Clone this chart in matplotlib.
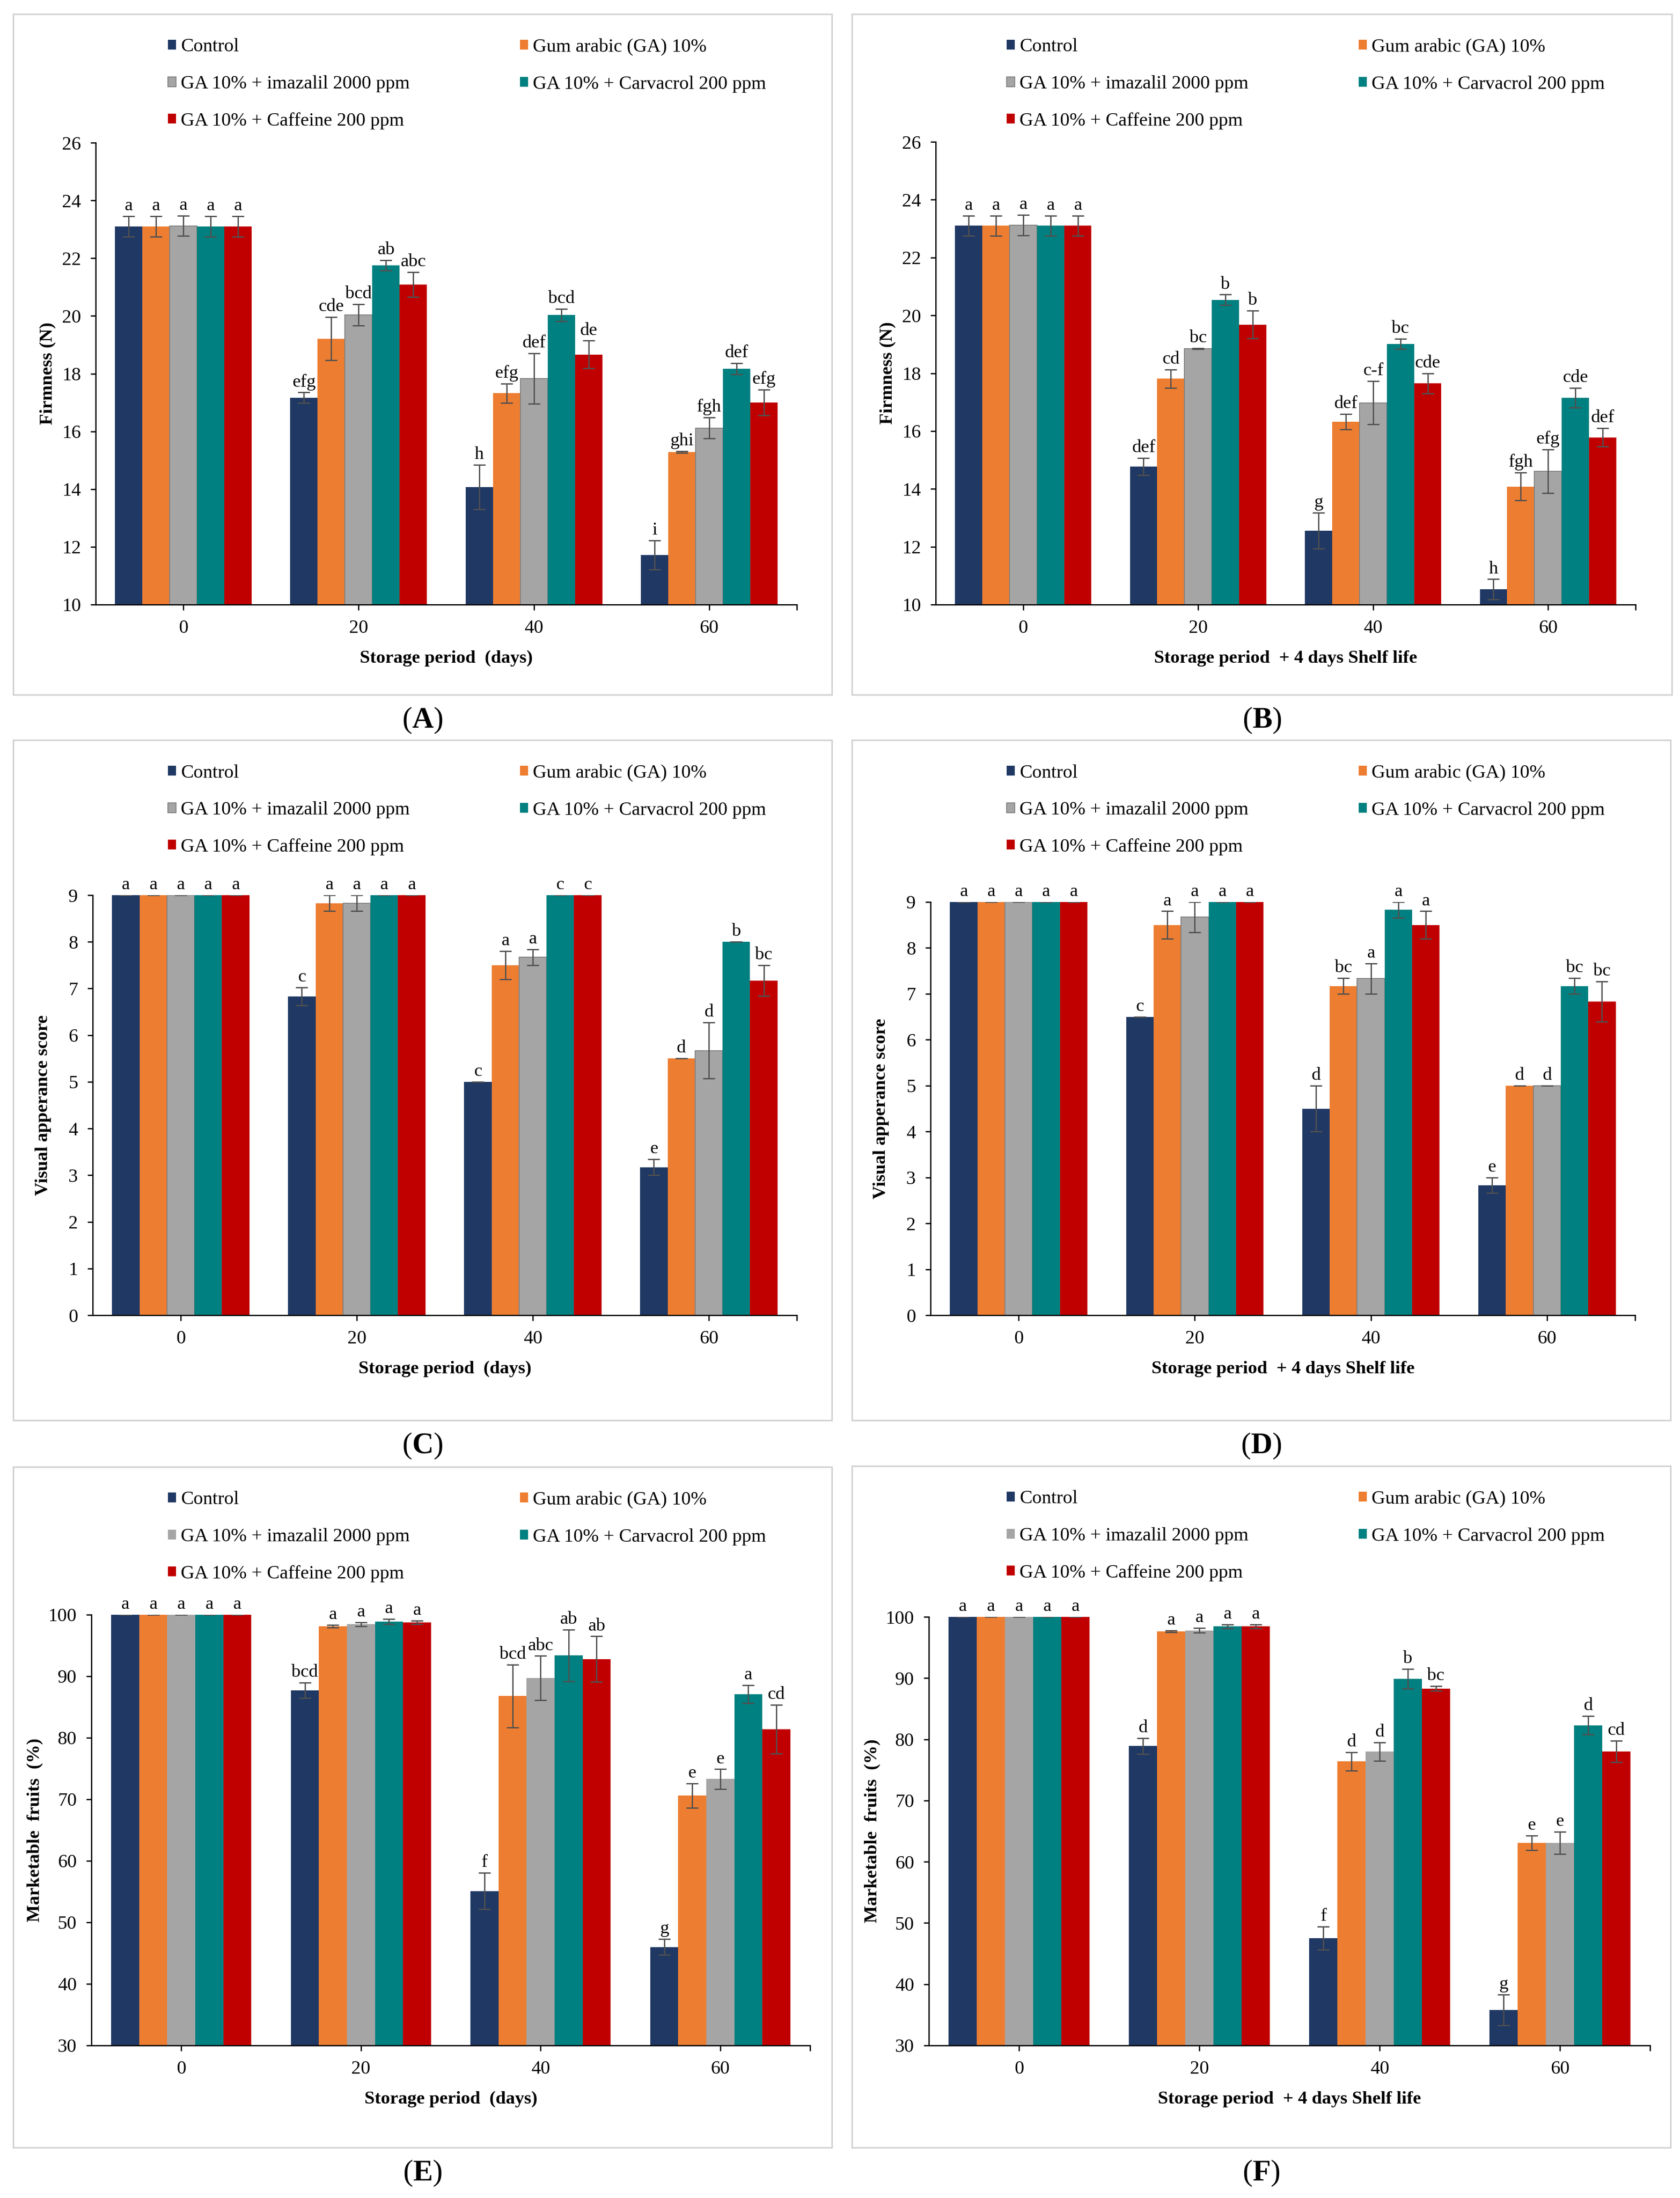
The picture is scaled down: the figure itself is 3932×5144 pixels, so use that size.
import numpy as np
import matplotlib
matplotlib.use("Agg")
import matplotlib.pyplot as plt
from matplotlib.patches import Rectangle

plt.rcParams['font.family'] = ['Liberation Serif', 'DejaVu Serif']
plt.rcParams['mathtext.fontset'] = 'custom'
plt.rcParams['mathtext.rm'] = 'Liberation Serif'
plt.rcParams['mathtext.bf'] = 'Liberation Serif:bold'

days = ['0', '20', '40', '60']
treatments = ['Control', 'Gum arabic (GA) 10%', 'GA 10% + imazalil 2000 ppm',
              'GA 10% + Carvacrol 200 ppm', 'GA 10% + Caffeine 200 ppm']
colors = ['#203864', '#ED7D31', '#A5A5A5', '#008080', '#C00000']

# (A) firmness, storage
firm_a = [[23.1, 17.17, 14.07, 11.72],
          [23.1, 19.21, 17.32, 15.29],
          [23.12, 20.03, 17.83, 16.12],
          [23.1, 21.75, 20.03, 18.17],
          [23.1, 21.09, 18.66, 17.0]]
err_a = [[0.35, 0.18, 0.77, 0.5],
         [0.35, 0.75, 0.33, 0.03],
         [0.35, 0.37, 0.88, 0.36],
         [0.35, 0.18, 0.21, 0.19],
         [0.35, 0.43, 0.48, 0.45]]
let_a = [['a', 'efg', 'h', 'i'], ['a', 'cde', 'efg', 'ghi'], ['a', 'bcd', 'def', 'fgh'],
         ['a', 'ab', 'bcd', 'def'], ['a', 'abc', 'de', 'efg']]

# (B) firmness, storage + shelf life
firm_b = [[23.1, 14.77, 12.56, 10.53],
          [23.1, 17.81, 16.32, 14.08],
          [23.12, 18.85, 16.98, 14.61],
          [23.1, 20.54, 19.01, 17.15],
          [23.1, 19.68, 17.65, 15.78]]
err_b = [[0.35, 0.3, 0.62, 0.35],
         [0.35, 0.32, 0.27, 0.48],
         [0.35, 0.02, 0.75, 0.75],
         [0.35, 0.18, 0.18, 0.34],
         [0.35, 0.48, 0.35, 0.32]]
let_b = [['a', 'def', 'g', 'h'], ['a', 'cd', 'def', 'fgh'], ['a', 'bc', 'c-f', 'efg'],
         ['a', 'b', 'bc', 'cde'], ['a', 'b', 'cde', 'def']]

# (C) visual appearance, storage
vis_c = [[9, 6.83, 5.0, 3.17],
         [9, 8.83, 7.5, 5.5],
         [9, 8.83, 7.67, 5.67],
         [9, 9, 9, 8.0],
         [9, 9, 9, 7.17]]
err_c = [[0, 0.19, 0, 0.17],
         [0, 0.17, 0.3, 0],
         [0, 0.17, 0.17, 0.6],
         [0, 0, 0, 0],
         [0, 0, 0, 0.33]]
let_c = [['a', 'c', 'c', 'e'], ['a', 'a', 'a', 'd'], ['a', 'a', 'a', 'd'],
         ['a', 'a', 'c', 'b'], ['a', 'a', 'c', 'bc']]

# (D) visual appearance, storage + shelf life
vis_d = [[9, 6.5, 4.5, 2.83],
         [9, 8.5, 7.17, 5.0],
         [9, 8.67, 7.33, 5.0],
         [9, 9, 8.83, 7.17],
         [9, 9, 8.5, 6.83]]
err_d = [[0, 0, 0.5, 0.17],
         [0, 0.3, 0.17, 0],
         [0, 0.33, 0.33, 0],
         [0, 0, 0.17, 0.17],
         [0, 0, 0.3, 0.44]]
let_d = [['a', 'c', 'd', 'e'], ['a', 'a', 'bc', 'd'], ['a', 'a', 'a', 'd'],
         ['a', 'a', 'a', 'bc'], ['a', 'a', 'a', 'bc']]

# (E) marketable fruits, storage
mkt_e = [[100, 87.7, 55.1, 46.0],
         [100, 98.15, 86.8, 70.6],
         [100, 98.45, 89.7, 73.3],
         [100, 98.9, 93.4, 87.1],
         [100, 98.75, 92.8, 81.4]]
err_e = [[0, 1.25, 2.95, 1.3],
         [0, 0.2, 5.1, 2.0],
         [0, 0.3, 3.6, 1.6],
         [0, 0.4, 4.2, 1.45],
         [0, 0.3, 3.7, 3.95]]
let_e = [['a', 'bcd', 'f', 'g'], ['a', 'a', 'bcd', 'e'], ['a', 'a', 'abc', 'e'],
         ['a', 'a', 'ab', 'a'], ['a', 'a', 'ab', 'cd']]

# (F) marketable fruits, storage + shelf life
mkt_f = [[100, 78.9, 47.5, 35.8],
         [100, 97.65, 76.4, 63.1],
         [100, 97.8, 78.0, 63.1],
         [100, 98.45, 89.9, 82.3],
         [100, 98.45, 88.3, 78.0]]
err_f = [[0, 1.3, 1.9, 2.5],
         [0, 0.15, 1.5, 1.2],
         [0, 0.4, 1.5, 1.8],
         [0, 0.3, 1.6, 1.5],
         [0, 0.3, 0.4, 1.75]]
let_f = [['a', 'd', 'f', 'g'], ['a', 'a', 'd', 'e'], ['a', 'a', 'd', 'e'],
         ['a', 'a', 'b', 'd'], ['a', 'a', 'bc', 'cd']]

xlab_store = 'Storage period  (days)'
xlab_shelf = 'Storage period  + 4 days Shelf life'

W, H = 3932, 5144
fig = plt.figure(figsize=(W / 100, H / 100), dpi=100)

# tag, data, err, letters, ylabel, xlabel, ylim, yticks, box px (l, t, r, b), axes px (l, t, r, b)
panels = [
    ('A', firm_a, err_a, let_a, 'Firmness (N)', xlab_store, (10, 26), range(10, 27, 2),
     (31, 33, 1947, 1626), (224, 334, 1865, 1415), 112),
    ('B', firm_b, err_b, let_b, 'Firmness (N)', xlab_shelf, (10, 26), range(10, 27, 2),
     (1994, 33, 3913, 1626), (2190, 332, 3828, 1415), 112),
    ('C', vis_c, err_c, let_c, 'Visual apperance score', xlab_store, (0, 9), range(0, 10),
     (31, 1732, 1947, 3324), (217, 2095, 1865, 3078), 116),
    ('D', vis_d, err_d, let_d, 'Visual apperance score', xlab_shelf, (0, 9), range(0, 10),
     (1994, 1732, 3910, 3324), (2178, 2111, 3827, 3078), 116),
    ('E', mkt_e, err_e, let_e, 'Marketable  fruits  (%)', xlab_store, (30, 100), range(30, 101, 10),
     (31, 3433, 1947, 5026), (214, 3779, 1896, 4787), 132),
    ('F', mkt_f, err_f, let_f, 'Marketable  fruits  (%)', xlab_shelf, (30, 100), range(30, 101, 10),
     (1994, 3431, 3910, 5026), (2174, 3784, 3862, 4787), 132),
]

bw = 0.156
x = np.arange(len(days))
order = [0, 2, 4, 1, 3]

for tag, vals, errs, lets, ylab, xlab, ylim, yticks, box, axpx, ylpad in panels:
    bl, bt, br, bb = box
    fig.add_artist(Rectangle((bl / W, 1 - bb / H), (br - bl) / W, (bb - bt) / H,
                             transform=fig.transFigure, fill=False,
                             edgecolor='#D0D0D0', lw=2.5))
    fig.text((bl + br) / 2 / W, 1 - (bb + 60) / H, r'($\mathbf{%s}$)' % tag,
             ha='center', va='center', fontsize=50)

    al, at, ar, ab = axpx
    ax = fig.add_axes([al / W, 1 - ab / H, (ar - al) / W, (ab - at) / H])
    bars = []
    for i in range(5):
        edge = '#7F7F7F' if i == 2 and tag in 'ABCD' else 'none'
        b = ax.bar(x + (i - 2) * bw, vals[i], width=bw, color=colors[i],
                   edgecolor=edge, linewidth=1.5, zorder=2)
        ax.errorbar(x + (i - 2) * bw, vals[i], yerr=errs[i], fmt='none',
                    ecolor='#505050', elinewidth=2.2, capsize=10, capthick=2.2, zorder=3)
        bars.append(b)
        for j in range(len(days)):
            ax.annotate(lets[i][j], xy=(x[j] + (i - 2) * bw, vals[i][j] + errs[i][j]),
                        xytext=(0, 10), textcoords='offset points', ha='center',
                        va='baseline', fontsize=31, annotation_clip=False)

    ax.set_xlim(-0.5, 3.5)
    ax.set_ylim(*ylim)
    ax.set_yticks(list(yticks))
    ax.set_xticks(x)
    ax.set_xticklabels(days)
    ax.set_xticks([3.5], minor=True)
    for s in ('top', 'right'):
        ax.spines[s].set_visible(False)
    for s in ('left', 'bottom'):
        ax.spines[s].set_linewidth(2.2)
    ax.tick_params(axis='both', which='both', direction='out', length=9, width=2.2,
                   labelsize=32)
    ax.tick_params(axis='y', pad=16)
    ax.tick_params(axis='x', pad=16)

    ax.annotate(ylab, xy=(0, 0.5), xycoords='axes fraction', xytext=(-ylpad / 1.389, 0),
                textcoords='offset points', rotation=90, ha='center', va='center',
                fontsize=31, fontweight='bold')
    ax.annotate(xlab, xy=(0.5, 0), xycoords='axes fraction', xytext=(0, -126 / 1.389),
                textcoords='offset points', ha='center', va='center',
                fontsize=31, fontweight='bold')

    leg = ax.legend([bars[i] for i in order], [treatments[i] for i in order], ncol=2,
                    mode='expand', loc='upper left',
                    bbox_to_anchor=((bl + 362) / W, 1 - (bt + 56) / H, 1400 / W, 0),
                    bbox_transform=fig.transFigure, frameon=False, fontsize=32,
                    handlelength=0.42, handleheight=0.42, handletextpad=0.25,
                    labelspacing=1.05, borderpad=0, borderaxespad=0)

fig.savefig('out.png', dpi=100, facecolor='white')
